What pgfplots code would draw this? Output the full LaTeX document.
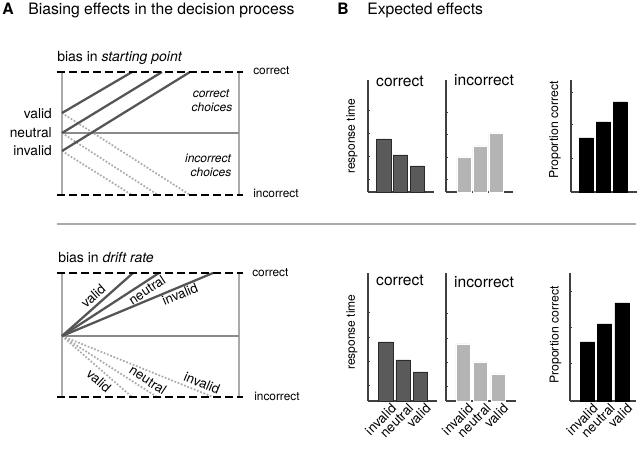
\documentclass[border=0pt]{standalone}
\usepackage{pgfplots}
\pgfplotsset{compat=1.18}
\usepackage{fontspec}
\setmainfont{TeX Gyre Heros}
\newcommand\fs[1]{\fontsize{#1pt}{#1pt}\selectfont}
\definecolor{solidg}{HTML}{555555}
\definecolor{dotg}{HTML}{ABABAB}
\definecolor{frameg}{HTML}{AAAAAA}
\definecolor{midg}{HTML}{8A8A8A}
\definecolor{bardark}{HTML}{5A5A5A}
\definecolor{baredge}{HTML}{2A2A2A}
\definecolor{barlight}{HTML}{B4B4B4}
\definecolor{axgray}{HTML}{404040}
\pgfplotsset{
  barax/.style={scale only axis, anchor=south west, ymin=0, ybar,
    axis x line*=bottom, axis y line*=left,
    axis line style={-, draw=axgray, line width=0.9pt},
    tick align=inside, major tick length=1.8pt,
    yticklabels={}, ytick style={draw=axgray, line width=0.6pt},
    xtick style={draw=none}, clip=false},
  botlab/.style={xtick={0,1,2}, xticklabels={invalid,neutral,valid},
    xticklabel style={rotate=45, anchor=north east, inner sep=0.5pt, yshift=-2.5pt, xshift=2pt, font=\fs{10}}},
  dash/.style={black, line width=1.7pt, dash pattern=on 6pt off 3pt},
  dots/.style={dotg, line width=1.3pt, dash pattern=on 1.3pt off 1.3pt},
  sol/.style={solidg, line width=1.7pt},
}
\begin{document}
\begin{tikzpicture}
\path[use as bounding box] (0,0) rectangle (480pt,339.75pt);
\begin{axis}[at={(0pt,0pt)}, anchor=south west, scale only axis, width=480pt, height=339.75pt,
  xmin=0, xmax=640, ymin=0, ymax=453, y dir=reverse, hide axis, clip=false]
% separator
\addplot[frameg, line width=0.8pt] coordinates {(57,224) (636,224)};
% ---- top diagram: starting point
\addplot[frameg, line width=0.8pt] coordinates {(62,72) (62,195)};
\addplot[frameg, line width=0.8pt] coordinates {(239,72) (239,195)};
\addplot[midg, line width=0.8pt] coordinates {(62,133) (239,133)};
\addplot[dots] coordinates {(62,113) (190,195)};
\addplot[dots] coordinates {(62,133) (158,195)};
\addplot[dots] coordinates {(62,151) (132,195)};
\addplot[sol] coordinates {(62,113) (132,72)};
\addplot[sol] coordinates {(62,133) (162,72)};
\addplot[sol] coordinates {(62,151) (190,72)};
\addplot[dash] coordinates {(57,72) (243,72)};
\addplot[dash] coordinates {(57,195) (243,195)};
% ---- bottom diagram: drift rate
\addplot[frameg, line width=0.8pt] coordinates {(62,273) (62,397)};
\addplot[frameg, line width=0.8pt] coordinates {(239,273) (239,397)};
\addplot[midg, line width=0.8pt] coordinates {(62,336) (239,336)};
\addplot[dots] coordinates {(62,336) (132,397)};
\addplot[dots] coordinates {(62,336) (157,397)};
\addplot[dots] coordinates {(62,336) (213,397)};
\addplot[sol] coordinates {(62,336) (133,273)};
\addplot[sol] coordinates {(62,336) (159,273)};
\addplot[sol] coordinates {(62,336) (213,273)};
\addplot[dash] coordinates {(57,273) (243,273)};
\addplot[dash] coordinates {(57,397) (243,397)};
% ---- texts
\node[anchor=base west, inner sep=0, font=\fs{11.8}\bfseries] at (2,14.5) {A};
\node[anchor=base west, inner sep=0, font=\fs{11.8}] at (28,14.5) {Biasing effects in the decision process};
\node[anchor=base west, inner sep=0, font=\fs{11.8}\bfseries] at (337,14.5) {B};
\node[anchor=base west, inner sep=0, font=\fs{11.8}] at (367,14.5) {Expected effects};
\node[anchor=base west, inner sep=0, font=\fs{10.5}] at (57,62) {bias in \textit{starting point}};
\node[anchor=base west, inner sep=0, font=\fs{10.5}] at (58,262.7) {bias in \textit{drift rate}};
\node[anchor=base east, inner sep=0, font=\fs{10.3}] at (52,118) {valid};
\node[anchor=base east, inner sep=0, font=\fs{10.3}] at (52,138) {neutral};
\node[anchor=base east, inner sep=0, font=\fs{10.3}] at (52,156) {invalid};
\node[anchor=base west, inner sep=0, font=\fs{8.9}] at (253,75) {correct};
\node[anchor=base west, inner sep=0, font=\fs{8.9}] at (253,198) {incorrect};
\node[anchor=base west, inner sep=0, font=\fs{8.9}] at (252,276.7) {correct};
\node[anchor=base west, inner sep=0, font=\fs{8.9}] at (254,400) {incorrect};
\node[anchor=base, inner sep=0, font=\fs{9}\itshape] at (211,98) {correct};
\node[anchor=base, inner sep=0, font=\fs{9}\itshape] at (212,112) {choices};
\node[anchor=base, inner sep=0, font=\fs{9}\itshape] at (208,162) {incorrect};
\node[anchor=base, inner sep=0, font=\fs{9}\itshape] at (211,176) {choices};
\node[inner sep=0, font=\fs{10}, rotate=41.6] at (93,296) {valid};
\node[inner sep=0, font=\fs{10}, rotate=33] at (147,290) {neutral};
\node[inner sep=0, font=\fs{10}, rotate=22.6] at (180,294) {invalid};
\node[inner sep=0, font=\fs{10}, rotate=-41.6] at (99,381) {valid};
\node[inner sep=0, font=\fs{10}, rotate=-33] at (148,380) {neutral};
\node[inner sep=0, font=\fs{10}, rotate=-22.6] at (202,383) {invalid};
\node[anchor=base, inner sep=0, font=\fs{11.7}] at (400,87) {correct};
\node[anchor=base, inner sep=0, font=\fs{11.7}] at (484,86) {incorrect};
\node[anchor=base, inner sep=0, font=\fs{11.7}] at (400,286) {correct};
\node[anchor=base, inner sep=0, font=\fs{11.7}] at (484,287.5) {incorrect};
\node[inner sep=0, font=\fs{9}, rotate=90] at (352,136) {response time};
\node[inner sep=0, font=\fs{9}, rotate=90] at (352,332) {response time};
\node[inner sep=0, font=\fs{9.2}, rotate=90] at (555,130) {Proportion correct};
\node[inner sep=0, font=\fs{9.2}, rotate=90] at (555.5,335) {Proportion correct};
\end{axis}
% ---- top bar charts
\begin{axis}[barax, at={(276pt,195.75pt)}, width=49.5pt, height=84pt,
  xmin=-0.95, xmax=2.99, ymax=112, ytick={13,36,59,82}, xtick=\empty]
\addplot[fill=bardark, draw=baredge, line width=0.6pt, bar width=0.84] coordinates {(0,53) (1,37) (2,26)};
\end{axis}
\begin{axis}[barax, at={(334.5pt,195.75pt)}, width=50.25pt, height=84pt,
  xmin=-1.12, xmax=3.06, ymax=112, ytick={13,35,58,80}, xtick=\empty]
\addplot[fill=barlight, draw=white, line width=0.4pt, bar width=0.875] coordinates {(0,35) (1,46) (2,59)};
\end{axis}
\begin{axis}[barax, at={(428.25pt,195.75pt)}, width=49.5pt, height=84pt,
  xmin=-0.88, xmax=3.0, ymax=112, ytick={34,68,100}, xtick=\empty]
\addplot[fill=black, draw=black, line width=0.4pt, bar width=0.8] coordinates {(0,54) (1,70) (2,90)};
\end{axis}
% ---- bottom bar charts
\begin{axis}[barax, botlab, at={(276pt,39pt)}, width=51.75pt, height=96pt,
  xmin=-1.04, xmax=2.96, ymax=128, ytick={16,40,64,89}]
\addplot[fill=bardark, draw=baredge, line width=0.6pt, bar width=0.84] coordinates {(0,59) (1,41) (2,29)};
\end{axis}
\begin{axis}[barax, botlab, at={(334.5pt,39pt)}, width=52.5pt, height=96pt,
  xmin=-0.97, xmax=3.03, ymax=128, ytick={15,39,63,88}]
\addplot[fill=barlight, draw=white, line width=0.4pt, bar width=0.8] coordinates {(0,57) (1,39) (2,27)};
\end{axis}
\begin{axis}[barax, botlab, at={(427.5pt,39pt)}, width=49.5pt, height=96pt,
  xmin=-1.01, xmax=2.82, ymax=128, ytick={38,74,110}]
\addplot[fill=black, draw=black, line width=0.4pt, bar width=0.82] coordinates {(0,59) (1,77) (2,98)};
\end{axis}
\end{tikzpicture}
\end{document}
